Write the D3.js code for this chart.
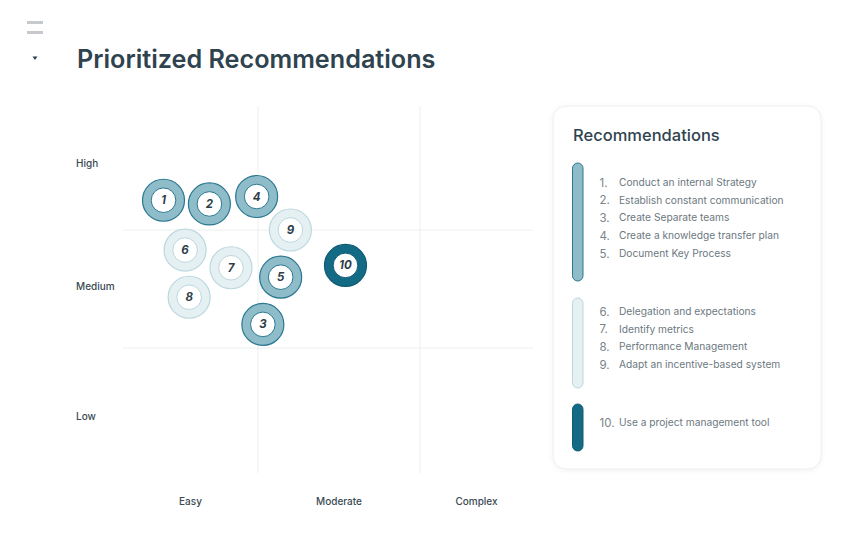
<!DOCTYPE html>
<html>
<head>
<meta charset="utf-8">
<script src="https://cdn.jsdelivr.net/npm/d3@7"></script>
<style>
  html, body { margin: 0; padding: 0; background: #ffffff; }
  svg { display: block; font-family: Inter, "Open Sans", sans-serif; }
</style>
</head>
<body>
<svg id="chart" width="849" height="548"></svg>
<script>
// ---- data ----
const ids = [1, 2, 3, 4, 5, 6, 7, 8, 9, 10];
const recommendations = [
  "Conduct an internal Strategy",
  "Establish constant communication",
  "Create Separate teams",
  "Create a knowledge transfer plan",
  "Document Key Process",
  "Delegation and expectations",
  "Identify metrics",
  "Performance Management",
  "Adapt an incentive-based system",
  "Use a project management tool"
];
const effort = [0.30, 0.64, 1.03, 0.99, 1.14, 0.46, 0.80, 0.49, 1.20, 1.54];
const impact = [2.24, 2.21, 1.20, 2.27, 1.60, 1.83, 1.68, 1.43, 2.00, 1.70];
const groupOf = [0, 0, 0, 0, 0, 1, 1, 1, 1, 2];
const effortLabels = ["Easy", "Moderate", "Complex"];
const impactLabels = ["Low", "Medium", "High"];
const chartTitle = "Prioritized Recommendations";
const legendTitle = "Recommendations";

// ---- styles ----
const groupFill = ["#8fbcc9", "#e5f0f3", "#136a85"];
const groupStroke = ["#2a7791", "#bcd7df", "#0f5b73"];
const innerStroke = ["#2a7791", "#bcd7df", "#0f5b73"];

const svg = d3.select("#chart");

// header
svg.append("rect").attr("x", 27).attr("y", 21).attr("width", 16).attr("height", 3).attr("fill", "#c6cacf");
svg.append("rect").attr("x", 27).attr("y", 31).attr("width", 16).attr("height", 3).attr("fill", "#c6cacf");
svg.append("path").attr("d", "M32.5,56.5 L37.5,56.5 L35,60 Z").attr("fill", "#2f3f49");
svg.append("text").attr("x", 77).attr("y", 68)
  .attr("font-size", 25.2).attr("font-weight", 600).attr("fill", "#2f434f")
  .text(chartTitle);

// ---- scales ----
const x = d3.scaleLinear().domain([0, 1, 2, 3]).range([123, 258, 420, 533]);
const y = d3.scaleLinear().domain([0, 1, 2, 3]).range([473, 348, 230, 106]);

// grid
const g = svg.append("g");
g.selectAll("line.v").data([1, 2]).join("line")
  .attr("x1", d => x(d)).attr("x2", d => x(d))
  .attr("y1", y(3)).attr("y2", y(0))
  .attr("stroke", "#eceeef").attr("stroke-width", 1);
g.selectAll("line.h").data([1, 2]).join("line")
  .attr("y1", d => y(d)).attr("y2", d => y(d))
  .attr("x1", x(0)).attr("x2", x(3))
  .attr("stroke", "#eceeef").attr("stroke-width", 1);

// axis labels
g.selectAll("text.xl").data(effortLabels).join("text")
  .attr("x", (d, i) => x(i + 0.5)).attr("y", 505)
  .attr("text-anchor", "middle").attr("font-size", 10).attr("font-weight", 500)
  .attr("fill", "#3a4a54").text(d => d);
const impactPos = [0.45, 1.52, 2.54];
g.selectAll("text.yl").data(impactLabels).join("text")
  .attr("x", 76).attr("y", (d, i) => y(impactPos[i]) + 3.5)
  .attr("font-size", 10).attr("font-weight", 500)
  .attr("fill", "#3a4a54").text(d => d);

// bubbles
const pts = ids.map((id, i) => ({ id, ex: effort[i], im: impact[i], grp: groupOf[i] }));
const b = g.selectAll("g.b").data(pts).join("g")
  .attr("transform", d => `translate(${x(d.ex)},${y(d.im)})`);
b.append("circle").attr("r", 21).attr("fill", d => groupFill[d.grp])
  .attr("stroke", d => groupStroke[d.grp]).attr("stroke-width", 1.2);
b.append("circle").attr("r", 12.3).attr("fill", "#ffffff")
  .attr("stroke", d => innerStroke[d.grp]).attr("stroke-width", 1);
b.append("text").attr("text-anchor", "middle").attr("dy", 4)
  .attr("font-size", 11.5).attr("font-weight", 700).attr("font-style", "italic")
  .attr("fill", "#2f3f49").text(d => d.id);

// ---- legend card ----
const defs = svg.append("defs");
const f = defs.append("filter").attr("id", "sh").attr("x", "-10%").attr("y", "-10%").attr("width", "120%").attr("height", "120%");
f.append("feDropShadow").attr("dx", 0).attr("dy", 1).attr("stdDeviation", 2.5).attr("flood-color", "#000").attr("flood-opacity", 0.06);
svg.append("rect").attr("x", 553).attr("y", 106).attr("width", 268).attr("height", 363)
  .attr("rx", 13).attr("fill", "#ffffff").attr("stroke", "#eceef0").attr("stroke-width", 1)
  .attr("filter", "url(#sh)");
svg.append("text").attr("x", 573).attr("y", 141)
  .attr("font-size", 16.5).attr("font-weight", 500).attr("fill", "#2f434f")
  .text(legendTitle);

const barExtents = [[163, 281], [298, 388], [404, 451]];
svg.selectAll("rect.gb").data([0, 1, 2]).join("rect")
  .attr("x", 572.5).attr("width", 10.5)
  .attr("y", d => barExtents[d][0]).attr("height", d => barExtents[d][1] - barExtents[d][0])
  .attr("rx", 5.25).attr("fill", d => groupFill[d])
  .attr("stroke", d => groupStroke[d]).attr("stroke-width", 1);

const groupStartY = [182, 311, 422.5];
const items = ids.map((id, i) => {
  const grp = groupOf[i];
  const idx = groupOf.slice(0, i).filter(v => v === grp).length;
  return { id, text: recommendations[i], yy: groupStartY[grp] + idx * 17.8 };
});
const li = svg.selectAll("g.li").data(items).join("g");
li.append("text").attr("x", 599.5).attr("y", d => d.yy + 4.5)
  .attr("font-size", 11.5).attr("fill", "#78838a").text(d => d.id + ".");
li.append("text").attr("x", 619).attr("y", d => d.yy + 3.8)
  .attr("font-size", 10.2).attr("fill", "#6c7880").text(d => d.text);
</script>
</body>
</html>
